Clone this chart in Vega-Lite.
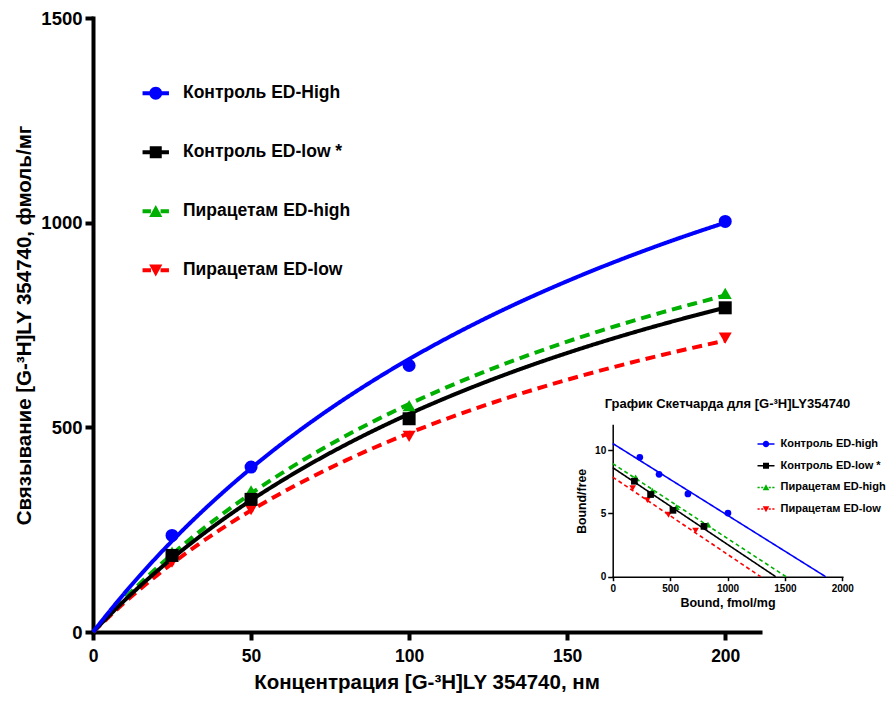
{
  "$schema": "https://vega.github.io/schema/vega-lite/v6.json",
  "width": 667,
  "height": 614,
  "autosize": {"type": "none"},
  "padding": {"left": 93, "top": 18, "right": 129, "bottom": 72},
  "background": "white",
  "config": {
    "view": {"stroke": null},
    "font": "Liberation Sans",
    "axis": {
      "grid": false,
      "labelFlush": false,
      "format": "d",
      "labelFont": "Liberation Sans",
      "titleFont": "Liberation Sans",
      "labelFontWeight": "bold",
      "titleFontWeight": "bold",
      "labelColor": "black",
      "titleColor": "black",
      "domainColor": "black",
      "tickColor": "black"
    }
  },
  "datasets": {
    "curves": [
      {"series": "Пирацетам ED-low", "conc": 0, "bound": 0},
      {"series": "Пирацетам ED-low", "conc": 10, "bound": 72.3},
      {"series": "Пирацетам ED-low", "conc": 20, "bound": 137.2},
      {"series": "Пирацетам ED-low", "conc": 30, "bound": 195.7},
      {"series": "Пирацетам ED-low", "conc": 40, "bound": 248.8},
      {"series": "Пирацетам ED-low", "conc": 50, "bound": 297.1},
      {"series": "Пирацетам ED-low", "conc": 60, "bound": 341.3},
      {"series": "Пирацетам ED-low", "conc": 70, "bound": 381.8},
      {"series": "Пирацетам ED-low", "conc": 80, "bound": 419.2},
      {"series": "Пирацетам ED-low", "conc": 90, "bound": 453.8},
      {"series": "Пирацетам ED-low", "conc": 100, "bound": 485.8},
      {"series": "Пирацетам ED-low", "conc": 110, "bound": 515.5},
      {"series": "Пирацетам ED-low", "conc": 120, "bound": 543.3},
      {"series": "Пирацетам ED-low", "conc": 130, "bound": 569.2},
      {"series": "Пирацетам ED-low", "conc": 140, "bound": 593.4},
      {"series": "Пирацетам ED-low", "conc": 150, "bound": 616.2},
      {"series": "Пирацетам ED-low", "conc": 160, "bound": 637.6},
      {"series": "Пирацетам ED-low", "conc": 170, "bound": 657.8},
      {"series": "Пирацетам ED-low", "conc": 180, "bound": 676.8},
      {"series": "Пирацетам ED-low", "conc": 190, "bound": 694.8},
      {"series": "Пирацетам ED-low", "conc": 200, "bound": 711.8},
      {"series": "Пирацетам ED-high", "conc": 0, "bound": 0},
      {"series": "Пирацетам ED-high", "conc": 10, "bound": 81.8},
      {"series": "Пирацетам ED-high", "conc": 20, "bound": 155.4},
      {"series": "Пирацетам ED-high", "conc": 30, "bound": 222.2},
      {"series": "Пирацетам ED-high", "conc": 40, "bound": 282.9},
      {"series": "Пирацетам ED-high", "conc": 50, "bound": 338.4},
      {"series": "Пирацетам ED-high", "conc": 60, "bound": 389.3},
      {"series": "Пирацетам ED-high", "conc": 70, "bound": 436.1},
      {"series": "Пирацетам ED-high", "conc": 80, "bound": 479.4},
      {"series": "Пирацетам ED-high", "conc": 90, "bound": 519.5},
      {"series": "Пирацетам ED-high", "conc": 100, "bound": 556.7},
      {"series": "Пирацетам ED-high", "conc": 110, "bound": 591.4},
      {"series": "Пирацетам ED-high", "conc": 120, "bound": 623.8},
      {"series": "Пирацетам ED-high", "conc": 130, "bound": 654.2},
      {"series": "Пирацетам ED-high", "conc": 140, "bound": 682.6},
      {"series": "Пирацетам ED-high", "conc": 150, "bound": 709.3},
      {"series": "Пирацетам ED-high", "conc": 160, "bound": 734.5},
      {"series": "Пирацетам ED-high", "conc": 170, "bound": 758.2},
      {"series": "Пирацетам ED-high", "conc": 180, "bound": 780.7},
      {"series": "Пирацетам ED-high", "conc": 190, "bound": 801.9},
      {"series": "Пирацетам ED-high", "conc": 200, "bound": 822.0},
      {"series": "Контроль ED-low *", "conc": 0, "bound": 0},
      {"series": "Контроль ED-low *", "conc": 10, "bound": 77.3},
      {"series": "Контроль ED-low *", "conc": 20, "bound": 147.1},
      {"series": "Контроль ED-low *", "conc": 30, "bound": 210.7},
      {"series": "Контроль ED-low *", "conc": 40, "bound": 268.7},
      {"series": "Контроль ED-low *", "conc": 50, "bound": 321.9},
      {"series": "Контроль ED-low *", "conc": 60, "bound": 370.8},
      {"series": "Контроль ED-low *", "conc": 70, "bound": 416.0},
      {"series": "Контроль ED-low *", "conc": 80, "bound": 457.8},
      {"series": "Контроль ED-low *", "conc": 90, "bound": 496.6},
      {"series": "Контроль ED-low *", "conc": 100, "bound": 532.8},
      {"series": "Контроль ED-low *", "conc": 110, "bound": 566.5},
      {"series": "Контроль ED-low *", "conc": 120, "bound": 598.1},
      {"series": "Контроль ED-low *", "conc": 130, "bound": 627.7},
      {"series": "Контроль ED-low *", "conc": 140, "bound": 655.5},
      {"series": "Контроль ED-low *", "conc": 150, "bound": 681.6},
      {"series": "Контроль ED-low *", "conc": 160, "bound": 706.3},
      {"series": "Контроль ED-low *", "conc": 170, "bound": 729.6},
      {"series": "Контроль ED-low *", "conc": 180, "bound": 751.6},
      {"series": "Контроль ED-low *", "conc": 190, "bound": 772.5},
      {"series": "Контроль ED-low *", "conc": 200, "bound": 792.3},
      {"series": "Контроль ED-High", "conc": 0, "bound": 0},
      {"series": "Контроль ED-High", "conc": 10, "bound": 95.2},
      {"series": "Контроль ED-High", "conc": 20, "bound": 181.8},
      {"series": "Контроль ED-High", "conc": 30, "bound": 260.9},
      {"series": "Контроль ED-High", "conc": 40, "bound": 333.3},
      {"series": "Контроль ED-High", "conc": 50, "bound": 400.0},
      {"series": "Контроль ED-High", "conc": 60, "bound": 461.5},
      {"series": "Контроль ED-High", "conc": 70, "bound": 518.5},
      {"series": "Контроль ED-High", "conc": 80, "bound": 571.4},
      {"series": "Контроль ED-High", "conc": 90, "bound": 620.7},
      {"series": "Контроль ED-High", "conc": 100, "bound": 666.7},
      {"series": "Контроль ED-High", "conc": 110, "bound": 709.7},
      {"series": "Контроль ED-High", "conc": 120, "bound": 750.0},
      {"series": "Контроль ED-High", "conc": 130, "bound": 787.9},
      {"series": "Контроль ED-High", "conc": 140, "bound": 823.5},
      {"series": "Контроль ED-High", "conc": 150, "bound": 857.1},
      {"series": "Контроль ED-High", "conc": 160, "bound": 888.9},
      {"series": "Контроль ED-High", "conc": 170, "bound": 918.9},
      {"series": "Контроль ED-High", "conc": 180, "bound": 947.4},
      {"series": "Контроль ED-High", "conc": 190, "bound": 974.4},
      {"series": "Контроль ED-High", "conc": 200, "bound": 1000.0}
    ],
    "points": [
      {"series": "Пирацетам ED-low", "conc": 25, "bound": 171},
      {"series": "Пирацетам ED-low", "conc": 50, "bound": 299},
      {"series": "Пирацетам ED-low", "conc": 100, "bound": 478},
      {"series": "Пирацетам ED-low", "conc": 200, "bound": 718},
      {"series": "Пирацетам ED-high", "conc": 25, "bound": 195},
      {"series": "Пирацетам ED-high", "conc": 50, "bound": 345},
      {"series": "Пирацетам ED-high", "conc": 100, "bound": 553},
      {"series": "Пирацетам ED-high", "conc": 200, "bound": 827},
      {"series": "Контроль ED-low *", "conc": 25, "bound": 187},
      {"series": "Контроль ED-low *", "conc": 50, "bound": 324},
      {"series": "Контроль ED-low *", "conc": 100, "bound": 521},
      {"series": "Контроль ED-low *", "conc": 200, "bound": 792},
      {"series": "Контроль ED-High", "conc": 25, "bound": 236},
      {"series": "Контроль ED-High", "conc": 50, "bound": 403},
      {"series": "Контроль ED-High", "conc": 100, "bound": 651},
      {"series": "Контроль ED-High", "conc": 200, "bound": 1003}
    ],
    "scatLines": [
      {"series": "Пирацетам ED-low", "bound": 0, "ratio": 7.88},
      {"series": "Пирацетам ED-low", "bound": 1289, "ratio": 0},
      {"series": "Пирацетам ED-high", "bound": 0, "ratio": 8.95},
      {"series": "Пирацетам ED-high", "bound": 1510, "ratio": 0},
      {"series": "Контроль ED-low *", "bound": 0, "ratio": 8.63},
      {"series": "Контроль ED-low *", "bound": 1420, "ratio": 0},
      {"series": "Контроль ED-high", "bound": 0, "ratio": 10.54},
      {"series": "Контроль ED-high", "bound": 1855, "ratio": 0}
    ],
    "scatPoints": [
      {"series": "Пирацетам ED-low", "bound": 174, "ratio": 7.0},
      {"series": "Пирацетам ED-low", "bound": 302, "ratio": 6.05},
      {"series": "Пирацетам ED-low", "bound": 486, "ratio": 4.9},
      {"series": "Пирацетам ED-low", "bound": 722, "ratio": 3.65},
      {"series": "Пирацетам ED-high", "bound": 200, "ratio": 7.85},
      {"series": "Пирацетам ED-high", "bound": 345, "ratio": 6.8},
      {"series": "Пирацетам ED-high", "bound": 555, "ratio": 5.5},
      {"series": "Пирацетам ED-high", "bound": 830, "ratio": 4.12},
      {"series": "Контроль ED-low *", "bound": 189, "ratio": 7.55},
      {"series": "Контроль ED-low *", "bound": 330, "ratio": 6.5},
      {"series": "Контроль ED-low *", "bound": 525, "ratio": 5.25},
      {"series": "Контроль ED-low *", "bound": 795, "ratio": 3.98},
      {"series": "Контроль ED-high", "bound": 236, "ratio": 9.45},
      {"series": "Контроль ED-high", "bound": 404, "ratio": 8.1},
      {"series": "Контроль ED-high", "bound": 655, "ratio": 6.55},
      {"series": "Контроль ED-high", "bound": 1004, "ratio": 5.03}
    ],
    "insetTitle": [
      {"label": "График Скетчарда для  [G-³H]LY354740", "bound": 1000, "ratio": 13.7}
    ]
  },
  "layer": [
    {
      "layer": [
        {
          "data": {"name": "curves"},
          "mark": {"type": "line", "strokeWidth": 4, "interpolate": "monotone"},
          "encoding": {
            "x": {
              "field": "conc", "type": "quantitative",
              "scale": {"domain": [0, 211], "nice": false},
              "axis": {
                "values": [0, 50, 100, 150, 200],
                "title": "Концентрация [G-³H]LY 354740, нм",
                "domainWidth": 4, "domainCap": "square", "tickWidth": 4, "tickSize": 8,
                "labelFontSize": 17.5, "labelPadding": 7,
                "titleFontSize": 20.5, "titlePadding": 8
              }
            },
            "y": {
              "field": "bound", "type": "quantitative",
              "scale": {"domain": [0, 1500], "nice": false},
              "axis": {
                "values": [0, 500, 1000, 1500],
                "title": "Связывание [G-³H]LY 354740, фмоль/мг",
                "domainWidth": 4, "domainCap": "square", "tickWidth": 4, "tickSize": 8,
                "labelFontSize": 18.5, "labelPadding": 3,
                "titleFontSize": 20.5, "titlePadding": 6
              }
            },
            "color": {
              "field": "series", "type": "nominal",
              "scale": {
                "domain": ["Контроль ED-High", "Контроль ED-low *", "Пирацетам ED-high", "Пирацетам ED-low"],
                "range": ["#0000ff", "#000000", "#00b000", "#ff0000"]
              },
              "legend": null
            },
            "strokeDash": {
              "field": "series", "type": "nominal",
              "scale": {
                "domain": ["Контроль ED-High", "Контроль ED-low *", "Пирацетам ED-high", "Пирацетам ED-low"],
                "range": [[1, 0], [1, 0], [10, 6], [10, 6]]
              },
              "legend": null
            }
          }
        },
        {
          "data": {"name": "points"},
          "mark": {"type": "point", "filled": true, "size": 169, "opacity": 1},
          "encoding": {
            "x": {"field": "conc", "type": "quantitative"},
            "y": {"field": "bound", "type": "quantitative"},
            "color": {"field": "series", "type": "nominal", "legend": null},
            "shape": {
              "field": "series", "type": "nominal",
              "scale": {
                "domain": ["Контроль ED-High", "Контроль ED-low *", "Пирацетам ED-high", "Пирацетам ED-low"],
                "range": ["circle", "square", "triangle-up", "triangle-down"]
              },
              "legend": null
            }
          }
        }
      ]
    },
    {
      "data": {"name": "points"},
      "mark": {"type": "point", "filled": true, "opacity": 0},
      "encoding": {
        "color": {
          "field": "series", "type": "nominal",
          "scale": {
            "domain": ["Контроль ED-High", "Контроль ED-low *", "Пирацетам ED-high", "Пирацетам ED-low"],
            "range": ["#0000ff", "#000000", "#00b000", "#ff0000"]
          },
          "legend": {
            "title": null, "orient": "none", "legendX": 54, "legendY": 66.5, "padding": 0,
            "symbolSize": 144, "symbolOpacity": 1, "symbolStrokeWidth": 0,
            "labelOffset": 18.5, "rowPadding": 40, "labelLimit": 400,
            "labelFont": "Liberation Sans", "labelFontSize": 17.5, "labelFontWeight": "bold", "labelColor": "black"
          }
        },
        "shape": {
          "field": "series", "type": "nominal",
          "scale": {
            "domain": ["Контроль ED-High", "Контроль ED-low *", "Пирацетам ED-high", "Пирацетам ED-low"],
            "range": [
              "M-2.2,-0.33H2.2V0.33H-2.2Z M1.08,0A1.08,1.08,0,1,1,-1.08,0A1.08,1.08,0,1,1,1.08,0Z",
              "M-2.2,-0.33H2.2V0.33H-2.2Z M-1,-1H1V1H-1Z",
              "M-2.2,-0.33H-0.8V0.33H-2.2Z M0.8,-0.33H2.2V0.33H0.8Z M0,-1.05L1.1,0.95H-1.1Z",
              "M-2.2,-0.33H-0.8V0.33H-2.2Z M0.8,-0.33H2.2V0.33H0.8Z M0,1.05L-1.1,-0.95H1.1Z"
            ]
          },
          "legend": {
            "title": null, "orient": "none", "legendX": 54, "legendY": 66.5, "padding": 0,
            "symbolSize": 144, "symbolOpacity": 1, "symbolStrokeWidth": 0,
            "labelOffset": 18.5, "rowPadding": 40, "labelLimit": 400,
            "labelFont": "Liberation Sans", "labelFontSize": 17.5, "labelFontWeight": "bold", "labelColor": "black"
          }
        }
      }
    },
    {
      "layer": [
        {
          "data": {"name": "scatLines"},
          "mark": {"type": "line", "strokeWidth": 1.6},
          "encoding": {
            "x": {
              "field": "bound", "type": "quantitative",
              "scale": {"domain": [0, 2000], "range": [519.7, 749.3], "nice": false},
              "axis": {
                "orient": "bottom", "offset": -55.3,
                "values": [0, 500, 1000, 1500, 2000],
                "title": "Bound, fmol/mg",
                "domainWidth": 1.5, "domainCap": "square", "tickWidth": 1.5, "tickSize": 4,
                "labelFontSize": 10, "labelPadding": 3,
                "titleFontSize": 12.5, "titlePadding": 3
              }
            },
            "y": {
              "field": "ratio", "type": "quantitative",
              "scale": {"domain": [0, 12], "range": [558.7, 407], "nice": false},
              "axis": {
                "orient": "left", "offset": -519.7,
                "values": [0, 5, 10],
                "title": "Bound/free",
                "domainWidth": 1.5, "domainCap": "square", "tickWidth": 1.5, "tickSize": 5,
                "labelFontSize": 10, "labelPadding": 2,
                "titleFontSize": 12.3, "titlePadding": 6
              }
            },
            "color": {
              "field": "series", "type": "nominal",
              "scale": {
                "domain": ["Контроль ED-high", "Контроль ED-low *", "Пирацетам ED-high", "Пирацетам ED-low"],
                "range": ["#0000ff", "#000000", "#00b000", "#ff0000"]
              },
              "legend": null
            },
            "strokeDash": {
              "field": "series", "type": "nominal",
              "scale": {
                "domain": ["Контроль ED-high", "Контроль ED-low *", "Пирацетам ED-high", "Пирацетам ED-low"],
                "range": [[1, 0], [1, 0], [4, 3], [4, 3]]
              },
              "legend": null
            }
          }
        },
        {
          "data": {"name": "scatPoints"},
          "mark": {"type": "point", "filled": true, "size": 45, "opacity": 1},
          "encoding": {
            "x": {"field": "bound", "type": "quantitative"},
            "y": {"field": "ratio", "type": "quantitative"},
            "color": {"field": "series", "type": "nominal", "legend": null},
            "shape": {
              "field": "series", "type": "nominal",
              "scale": {
                "domain": ["Контроль ED-high", "Контроль ED-low *", "Пирацетам ED-high", "Пирацетам ED-low"],
                "range": ["circle", "square", "triangle-up", "triangle-down"]
              },
              "legend": null
            }
          }
        },
        {
          "data": {"name": "insetTitle"},
          "mark": {"type": "text", "font": "Liberation Sans", "fontWeight": "bold", "fontSize": 13, "color": "black", "align": "center", "baseline": "middle"},
          "encoding": {
            "x": {"field": "bound", "type": "quantitative"},
            "y": {"field": "ratio", "type": "quantitative"},
            "text": {"field": "label"}
          }
        }
      ]
    },
    {
      "data": {"name": "scatPoints"},
      "mark": {"type": "point", "filled": true, "opacity": 0},
      "encoding": {
        "color": {
          "field": "series", "type": "nominal",
          "scale": {
            "domain": ["Контроль ED-high", "Контроль ED-low *", "Пирацетам ED-high", "Пирацетам ED-low"],
            "range": ["#0000ff", "#000000", "#00b000", "#ff0000"]
          },
          "legend": {
            "title": null, "orient": "none", "legendX": 667.5, "legendY": 420.5, "padding": 0,
            "symbolSize": 36, "symbolOpacity": 1, "symbolStrokeWidth": 0,
            "labelOffset": 9, "rowPadding": 9.7, "labelLimit": 300,
            "labelFont": "Liberation Sans", "labelFontSize": 11, "labelFontWeight": "bold", "labelColor": "black"
          }
        },
        "shape": {
          "field": "series", "type": "nominal",
          "scale": {
            "domain": ["Контроль ED-high", "Контроль ED-low *", "Пирацетам ED-high", "Пирацетам ED-low"],
            "range": [
              "M-2.83,-0.25H2.83V0.25H-2.83Z M1.08,0A1.08,1.08,0,1,1,-1.08,0A1.08,1.08,0,1,1,1.08,0Z",
              "M-2.83,-0.25H2.83V0.25H-2.83Z M-1,-1H1V1H-1Z",
              "M-2.83,-0.25H-2.1V0.25H-2.83Z M-1.6,-0.25H-0.9V0.25H-1.6Z M0.9,-0.25H1.6V0.25H0.9Z M2.1,-0.25H2.83V0.25H2.1Z M0,-1.05L1.1,0.95H-1.1Z",
              "M-2.83,-0.25H-2.1V0.25H-2.83Z M-1.6,-0.25H-0.9V0.25H-1.6Z M0.9,-0.25H1.6V0.25H0.9Z M2.1,-0.25H2.83V0.25H2.1Z M0,1.05L-1.1,-0.95H1.1Z"
            ]
          },
          "legend": {
            "title": null, "orient": "none", "legendX": 667.5, "legendY": 420.5, "padding": 0,
            "symbolSize": 36, "symbolOpacity": 1, "symbolStrokeWidth": 0,
            "labelOffset": 9, "rowPadding": 9.7, "labelLimit": 300,
            "labelFont": "Liberation Sans", "labelFontSize": 11, "labelFontWeight": "bold", "labelColor": "black"
          }
        }
      }
    }
  ],
  "resolve": {
    "scale": {"x": "independent", "y": "independent", "color": "independent", "shape": "independent", "strokeDash": "independent"}
  }
}
